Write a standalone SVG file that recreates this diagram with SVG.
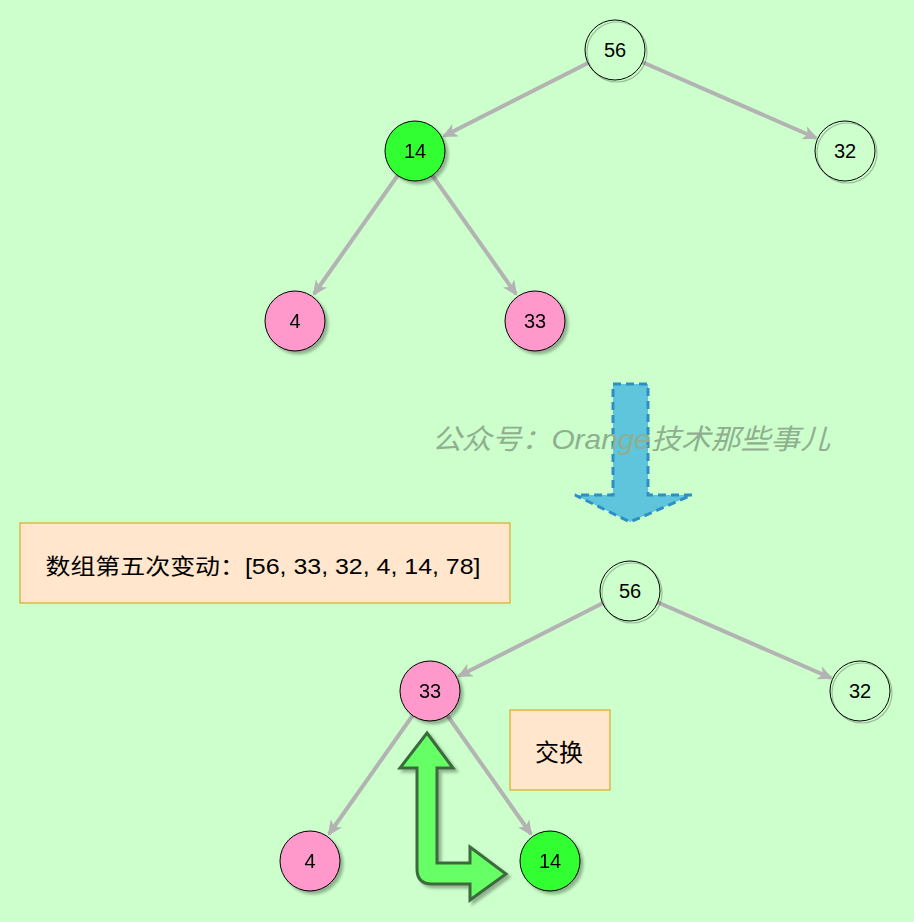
<svg xmlns="http://www.w3.org/2000/svg" width="914" height="922" viewBox="0 0 914 922">
<style>
.edge{stroke:#B3B3B3;stroke-width:4;fill:none;marker-end:url(#ah)}
.ring{fill:none;stroke:#000;stroke-opacity:0.25;stroke-width:1.2}
.node{stroke:#000;stroke-width:1}
.lbl{font-family:"Liberation Sans","Noto Sans CJK SC",sans-serif;font-size:20px;fill:#000;text-anchor:middle;dominant-baseline:central}
.box{fill:#FFE6CC;stroke:#D79B00;stroke-width:1}
.btxt{font-family:"Liberation Sans","Noto Sans CJK SC",sans-serif;font-size:22px;fill:#000;text-anchor:middle;dominant-baseline:central}
.wm{font-family:"Liberation Sans","Noto Sans CJK SC",sans-serif;font-size:28px;font-style:italic;fill:#8FAF8F}
</style>
<defs>
<marker id="ah" markerWidth="16" markerHeight="14" refX="13" refY="7" orient="auto" markerUnits="userSpaceOnUse" viewBox="0 0 16 14">
<path d="M0,0 L15,7 L0,14 L4,7 Z" fill="#B3B3B3"/>
</marker>
<filter id="sh" x="-20%" y="-20%" width="140%" height="140%">
<feGaussianBlur in="SourceAlpha" stdDeviation="1.5"/>
<feOffset dx="3" dy="3" result="o"/>
<feComponentTransfer><feFuncA type="linear" slope="0.3"/></feComponentTransfer>
<feMerge><feMergeNode/><feMergeNode in="SourceGraphic"/></feMerge>
</filter>
</defs>
<rect width="914" height="922" fill="#CCFFCC"/>

<g id="connectors">
<line class="edge" x1="588" y1="63" x2="444" y2="136"/>
<line class="edge" x1="642" y1="62" x2="816" y2="138"/>
<line class="edge" x1="398" y1="175" x2="314" y2="294"/>
<line class="edge" x1="432" y1="175" x2="516" y2="294"/>
<line class="edge" x1="603" y1="603" x2="459" y2="676"/>
<line class="edge" x1="657" y1="602" x2="831" y2="678"/>
<line class="edge" x1="413" y1="715" x2="329" y2="834"/>
<line class="edge" x1="447" y1="715" x2="531" y2="834"/>
</g>

<g id="n56a"><circle class="ring" cx="617" cy="52" r="30"/><circle class="node" cx="615" cy="50" r="30" fill="none"/><text class="lbl" x="615" y="50">56</text></g>
<g id="n14a" filter="url(#sh)"><circle class="node" cx="415" cy="151" r="30" fill="#33FF33"/><text class="lbl" x="415" y="151">14</text></g>
<g id="n32a"><circle class="ring" cx="847" cy="153" r="30"/><circle class="node" cx="845" cy="151" r="30" fill="none"/><text class="lbl" x="845" y="151">32</text></g>
<g id="n4a" filter="url(#sh)"><circle class="node" cx="295" cy="321" r="30" fill="#FF99CC"/><text class="lbl" x="295" y="321">4</text></g>
<g id="n33a" filter="url(#sh)"><circle class="node" cx="535" cy="321" r="30" fill="#FF99CC"/><text class="lbl" x="535" y="321">33</text></g>

<g id="bigarrow">
<path d="M613,384 L648,384 L648,495 L692,495 L630,522 L575,495 L613,495 Z" fill="#5FC5DC" stroke="#2F8FC4" stroke-width="3" stroke-dasharray="8,5"/>
</g>
<text class="wm" x="432" y="449" textLength="398" lengthAdjust="spacingAndGlyphs">公众号：Orange技术那些事儿</text>

<g id="box1"><rect class="box" x="20" y="523" width="490" height="80"/><text class="btxt" x="263" y="566" textLength="435" lengthAdjust="spacingAndGlyphs">数组第五次变动：[56, 33, 32, 4, 14, 78]</text></g>

<g id="n56b"><circle class="ring" cx="632" cy="593" r="30"/><circle class="node" cx="630" cy="591" r="30" fill="none"/><text class="lbl" x="630" y="591">56</text></g>
<g id="n33b" filter="url(#sh)"><circle class="node" cx="430" cy="691" r="30" fill="#FF99CC"/><text class="lbl" x="430" y="691">33</text></g>
<g id="n32b"><circle class="ring" cx="862" cy="693" r="30"/><circle class="node" cx="860" cy="691" r="30" fill="none"/><text class="lbl" x="860" y="691">32</text></g>
<g id="n4b" filter="url(#sh)"><circle class="node" cx="310" cy="861" r="30" fill="#FF99CC"/><text class="lbl" x="310" y="861">4</text></g>
<g id="n14b" filter="url(#sh)"><circle class="node" cx="550" cy="861" r="30" fill="#33FF33"/><text class="lbl" x="550" y="861">14</text></g>

<g id="box2"><rect class="box" x="510" y="710" width="100" height="80"/><text class="btxt" x="559" y="752" style="font-size:24px">交换</text></g>

<g id="swaparrow" filter="url(#sh)">
<path d="M427,733 L453,768 L437,768 L437,863 L470,863 L470,847 L506,874 L470,900 L470,884 L432,884 Q417,884 417,869 L417,768 L400,768 Z" fill="#66FF66" stroke="#3D6B3D" stroke-width="3" stroke-linejoin="miter"/>
</g>
</svg>
